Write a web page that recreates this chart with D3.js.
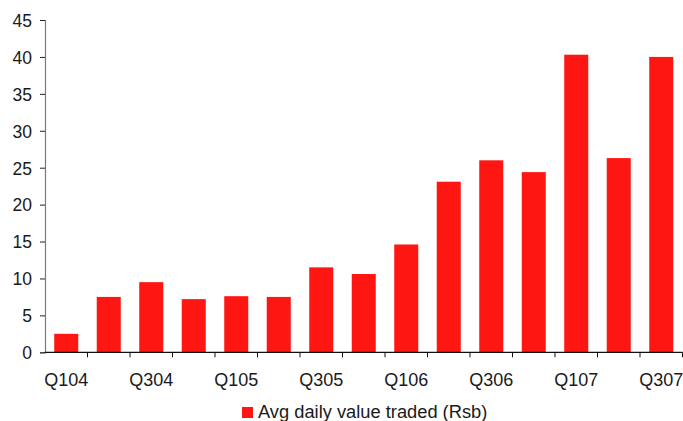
<!DOCTYPE html>
<html>
<head>
<meta charset="utf-8">
<script src="https://cdn.jsdelivr.net/npm/d3@7"></script>
<style>
  html, body { margin: 0; padding: 0; background: #fff; }
  svg { display: block; font-family: "Liberation Sans", Arial, sans-serif; }
</style>
</head>
<body>
<svg id="chart" width="683" height="421"></svg>
<script>
// Quarterly average daily value traded (Rs bn)
const quarters = ["Q104","Q204","Q304","Q404","Q105","Q205","Q305","Q405",
                  "Q106","Q206","Q306","Q406","Q107","Q207","Q307"];
const avgDailyValue = [2.5, 7.5, 9.5, 7.2, 7.6, 7.5, 11.5, 10.6,
                       14.6, 23.1, 26.0, 24.4, 40.3, 26.3, 40.0];
const yTicks = [0, 5, 10, 15, 20, 25, 30, 35, 40, 45];
const seriesName = "Avg daily value traded (Rsb)";

const svg = d3.select("#chart");
const plotLeft = 45, plotRight = 682.5, plotTop = 20, plotBottom = 352.3;
const barColor = "#fe1612";
const textColor = "#1a1a1a";

const x = d3.scaleBand().domain(quarters).range([plotLeft, plotRight])
  .paddingInner(0.435).paddingOuter(0.2175);
const xTickScale = d3.scaleLinear().domain([0, quarters.length]).range([plotLeft, plotRight]);
const y = d3.scaleLinear().domain([0, 45]).range([plotBottom, plotTop]);

// bars
svg.append("g").selectAll("rect").data(quarters).join("rect")
  .attr("x", d => x(d))
  .attr("width", x.bandwidth())
  .attr("y", (d, i) => y(avgDailyValue[i]))
  .attr("height", (d, i) => y(0) - y(avgDailyValue[i]))
  .attr("fill", barColor);

// y axis
const yAxis = svg.append("g").attr("transform", `translate(${plotLeft},0)`)
  .call(d3.axisLeft(y).tickValues(yTicks).tickSize(5).tickPadding(8));
yAxis.select(".domain").attr("stroke", "#7a7a7a").attr("stroke-width", 1.2);
yAxis.selectAll(".tick line").attr("stroke", "#222");
yAxis.selectAll(".tick text").attr("fill", textColor)
  .style("font-size", "17.5px").attr("dy", "0.36em");

// x axis: boundary ticks between categories
const xAxisG = svg.append("g").attr("transform", `translate(0,${plotBottom})`);
xAxisG.append("line").attr("x1", plotLeft).attr("x2", plotRight)
  .attr("stroke", "#111").attr("stroke-width", 1.3);
xAxisG.selectAll("line.tk").data(d3.range(1, quarters.length + 1)).join("line")
  .attr("class", "tk")
  .attr("x1", d => xTickScale(d)).attr("x2", d => xTickScale(d))
  .attr("y1", 0).attr("y2", 5)
  .attr("stroke", "#111").attr("stroke-width", 1);

// x labels on every other quarter
xAxisG.selectAll("text").data(quarters.filter((d, i) => i % 2 === 0)).join("text")
  .attr("x", d => x(d) + x.bandwidth() / 2)
  .attr("y", 33.5)
  .attr("text-anchor", "middle")
  .attr("fill", textColor)
  .style("font-size", "18px")
  .text(d => d);

// legend
const legend = svg.append("g").attr("transform", "translate(242,407)");
legend.append("rect").attr("width", 11).attr("height", 11).attr("fill", barColor);
legend.append("text").attr("x", 16).attr("y", 11)
  .attr("fill", textColor).style("font-size", "18.3px").text(seriesName);
</script>
</body>
</html>
